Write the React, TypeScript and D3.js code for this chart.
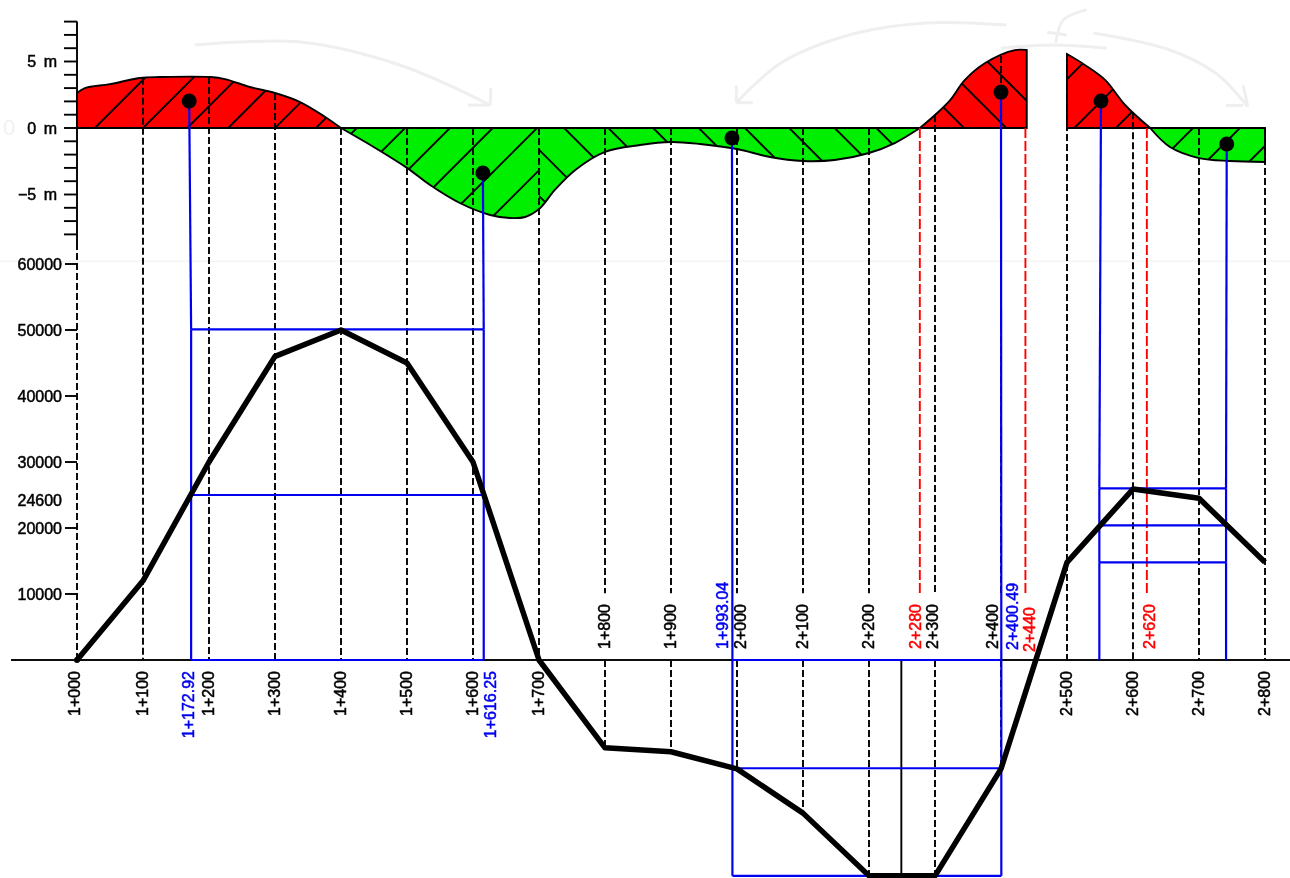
import React from "react";
import * as d3 from "d3";

// Chainage stations (m) and haul-diagram ordinates
const stations = [1000,1100,1200,1300,1400,1500,1600,1700,1800,1900,2000,2100,2200,2300,2400,2500,2600,2700,2800];
const massValues = [0,12000,30000,46000,50000,45000,30000,0,-13300,-13900,-16500,-23200,-32700,-32700,-16500,14800,25900,24500,14800];
const stationLabels = ["1+000","1+100","1+200","1+300","1+400","1+500","1+600","1+700","1+800","1+900","2+000","2+100","2+200","2+300","2+400","2+500","2+600","2+700","2+800"];
const labelsAboveAxis = ["1+800","1+900","2+000","2+100","2+200","2+300","2+400"];

// Cut/fill profile (chainage, metres)
const red1C = [1000,1012,1050,1095,1126,1202,1224,1262,1300,1338,1376,1400];
const red1H = [2.63,3.0,3.3,3.76,3.83,3.83,3.68,3.08,2.63,1.95,0.83,0];
const green1C = [1400,1452,1500,1535,1580,1626,1656,1679,1700];
const green1H = [0,-1.5,-3.0,-4.29,-5.64,-6.54,-6.77,-6.69,-6.1];
const green2C = [1700,1724,1755,1800,1853,1900,1944,2000,2050,2100,2148,2200,2239,2277];
const green2H = [-6.1,-4.66,-3.16,-1.8,-1.28,-1.05,-1.2,-1.58,-2.18,-2.48,-2.41,-1.88,-1.13,0];
const red2C = [2277,2300,2323,2345,2376,2421,2439];
const red2H = [0,0.98,2.1,3.6,4.89,5.86,5.86];
const red3C = [2500,2527,2558,2588,2626];
const red3H = [5.56,4.74,3.6,1.73,0];
const green3C = [2626,2656,2700,2747,2800];
const green3H = [0,-1.43,-2.26,-2.48,-2.56];

// Hatch lines: chainage where each crosses the zero line
const red1Hatch = [1027,1100,1167,1229,1300,1362];
const green1Hatch = [1424,1497,1565,1630,1697,1764];
const green2Hatch = [1597,1667,1738,1805,1873,1942,2012,2079,2148,2211];
const red2Hatch = [2344,2408,2480];
const red3Hatch = [2426,2511,2574];
const green3Hatch = [2691,2762,2827];

// Balance points and their red stations
const redStations = [2277,2437,2621];
const redLabels = ["2+280","2+440","2+620"];

// Balance boxes
const box1 = { from: 1172.92, to: 1616.25, values: [50080, 25000, 0] };
const box2 = { from: 1993.04, to: 2400.49, values: [0, -16400, -32700] };
const box3 = { from: 2549, to: 2741, values: [26000, 20400, 14800] };
const blueLabelsBelow = ["1+172.92","1+616.25"];
const blueLabelsAbove = ["1+993.04","2+400.49"];
const midStation = 2249;

// Centroid dots
const dotC = [1170,1615,1992.4,2400,2551.5,2742];
const dotH = [2.03,-3.38,-0.75,2.7,2.03,-1.2];

// Axis ticks
const massTicks = [60000,50000,40000,30000,20000,10000];
const metreTicks = d3.range(-8, 9);
const metreLabels: [number, string][] = [[5,"5 m"],[0,"0 m"],[-5,"−5 m"]];

// Faint ghost strokes left in the scan (chainage, metres)
const ghostArcs: [number, number][][] = [
  [[1179,6.24],[1338,6.47],[1489,4.74],[1626,1.73]],
  [[1626,1.73],[1627,3.0]],
  [[1626,1.73],[1592,1.73]],
  [[1999,1.9],[2067,4.9],[2178,7.1],[2287,7.9],[2408,7.75]],
  [[1999,1.9],[1999,3.2]],
  [[1999,1.9],[2024,1.9]],
  [[2540,7.15],[2654,5.9],[2726,4.1],[2774,1.6]],
  [[2774,1.6],[2767,3.2]],
  [[2767,1.7],[2741,1.7]],
  [[2530,8.9],[2494,8.1],[2483,6.4]],
  [[2470,7.2],[2500,7.0]],
  [[2400,6.0],[2480,6.25],[2560,6.0]],
];

const W = 1290, H = 878;
const x = d3.scaleLinear().domain([1000, 2800]).range([77, 1265]);
const yM = d3.scaleLinear().domain([-8, 8]).range([234.4, 21.6]);
const yV = d3.scaleLinear().domain([0, 60000]).range([660, 264]);

const FONT = "'Liberation Sans', Arial, sans-serif";
const BLUE = "#0000f0";
const RED = "#ff0000";
const GREEN = "#00ee00";
const LINE = 1.9;

const allC = [...red1C, ...green1C.slice(1), ...green2C.slice(1), ...red2C.slice(1), ...red3C, ...green3C.slice(1)];
const allH = [...red1H, ...green1H.slice(1), ...green2H.slice(1), ...red2H.slice(1), ...red3H, ...green3H.slice(1)];
const heightAt = d3.scaleLinear().domain(allC).range(allH);
const topOf = (c: number) => yM(Math.max(0, heightAt(c)));

const sections = [
  { id: "r1", c: red1C, h: red1H, fill: RED, hatch: red1Hatch, dir: 1 },
  { id: "g1", c: green1C, h: green1H, fill: GREEN, hatch: green1Hatch, dir: 1 },
  { id: "g2", c: green2C, h: green2H, fill: GREEN, hatch: green2Hatch, dir: -1 },
  { id: "r2", c: red2C, h: red2H, fill: RED, hatch: red2Hatch, dir: -1 },
  { id: "r3", c: red3C, h: red3H, fill: RED, hatch: red3Hatch, dir: 1 },
  { id: "g3", c: green3C, h: green3H, fill: GREEN, hatch: green3Hatch, dir: 1 },
];

const areaOf = (c: number[], h: number[]) =>
  d3.area<number>()
    .x((_, i) => x(c[i]))
    .y0(yM(0))
    .y1((_, i) => yM(h[i]))
    .curve(d3.curveCatmullRom)(c) as string;

const ghostLine = d3.line<[number, number]>()
  .x((d) => x(d[0]))
  .y((d) => yM(d[1]))
  .curve(d3.curveCatmullRom);

const massLine = d3.line<number>()
  .x((_, i) => x(stations[i]))
  .y((d) => yV(d))
  .curve(d3.curveLinear);

function VText({ px, py, anchor, fill = "#000", children }: any) {
  return (
    <text
      transform={`translate(${px},${py}) rotate(-90)`}
      textAnchor={anchor}
      dominantBaseline="central"
      fontFamily={FONT}
      fontSize={16}
      fill={fill}
      stroke={fill}
      strokeWidth={0.5}
    >
      {children}
    </text>
  );
}

function Box({ b, leaders }: any) {
  const ys = b.values.map((v: number) => yV(v));
  const top = Math.min(...ys), bottom = Math.max(...ys);
  return (
    <g stroke={BLUE} strokeWidth={2.2} fill="none">
      {ys.map((yy: number, i: number) => (
        <line key={i} x1={x(b.from)} x2={x(b.to)} y1={yy} y2={yy} />
      ))}
      <line x1={x(b.from)} x2={x(b.from)} y1={top} y2={bottom} />
      <line x1={x(b.to)} x2={x(b.to)} y1={top} y2={bottom} />
      {leaders}
    </g>
  );
}

export default function App() {
  const aboveLabelStop = yV(10100);
  return (
    <svg
      width={W}
      height={H}
      viewBox={`0 0 ${W} ${H}`}
      style={{ position: "absolute", left: 0, top: 0, background: "#fff" }}
    >
      <defs>
        <filter id="soft" filterUnits="userSpaceOnUse" x={0} y={0} width={W} height={H}>
          <feGaussianBlur stdDeviation={0.7} />
        </filter>
        {sections.map((s) => (
          <clipPath id={`clip-${s.id}`} key={s.id}>
            <path d={areaOf(s.c, s.h)} />
          </clipPath>
        ))}
      </defs>

      <g filter="url(#soft)">
        {/* ghost scan marks */}
        <line x1={0} x2={W} y1={yV(60400)} y2={yV(60400)} stroke="#f5f5f5" strokeWidth={1.5} />
        <g fill="none" stroke="#efefef" strokeWidth={3}>
          {ghostArcs.map((a, i) => (
            <path key={i} d={ghostLine(a) as string} />
          ))}
        </g>
        <text x={3} y={yM(0) + 7} fontFamily={FONT} fontSize={22} fill="#f0f0f0">0</text>

        {/* fills and hatching */}
        {sections.map((s) => (
          <g key={s.id}>
            <path d={areaOf(s.c, s.h)} fill={s.fill} />
            <g clipPath={`url(#clip-${s.id})`} stroke="#000" strokeWidth={LINE}>
              {s.hatch.map((c) => (
                <line
                  key={c}
                  x1={x(c) - 300}
                  y1={yM(0) + 300 * s.dir}
                  x2={x(c) + 300}
                  y2={yM(0) - 300 * s.dir}
                />
              ))}
            </g>
          </g>
        ))}
        {[
          { c: red1C, h: red1H },
          { c: [...green1C, ...green2C.slice(1)], h: [...green1H, ...green2H.slice(1)] },
          { c: red2C, h: red2H },
          { c: red3C, h: red3H },
          { c: green3C, h: green3H },
        ].map((s, i) => (
          <path key={i} d={areaOf(s.c, s.h)} fill="none" stroke="#000" strokeWidth={LINE} />
        ))}

        {/* metre axis */}
        <line x1={x(1000)} x2={x(1000)} y1={yM(8)} y2={243} stroke="#000" strokeWidth={LINE} />
        {metreTicks.map((t) => (
          <line key={t} x1={64} x2={x(1000)} y1={yM(t)} y2={yM(t)} stroke="#000" strokeWidth={LINE} />
        ))}
        {metreLabels.map(([v, s]) => (
          <text
            key={s}
            x={57}
            y={yM(v)}
            textAnchor="end"
            dominantBaseline="central"
            fontFamily={FONT}
            fontSize={16}
            fill="#000"
            stroke="#000"
            strokeWidth={0.5}
            style={{ wordSpacing: "3px" }}
          >
            {s}
          </text>
        ))}

        {/* station lines */}
        <g stroke="#000" strokeWidth={LINE} strokeDasharray="7 3" fill="none">
          {stations.map((c, i) => {
            const above = labelsAboveAxis.includes(stationLabels[i]);
            const top = c === 1000 ? 243 : topOf(c);
            return above ? (
              <g key={c}>
                <line x1={x(c)} x2={x(c)} y1={top} y2={aboveLabelStop} />
                <line x1={x(c)} x2={x(c)} y1={yV(0)} y2={yV(massValues[i])} />
              </g>
            ) : (
              <line key={c} x1={x(c)} x2={x(c)} y1={top} y2={yV(0)} />
            );
          })}
        </g>
        <g stroke={RED} strokeWidth={LINE} strokeDasharray="10 3" fill="none">
          {redStations.map((c) => (
            <line key={c} x1={x(c)} x2={x(c)} y1={yM(0)} y2={aboveLabelStop} />
          ))}
        </g>
        <line x1={x(midStation)} x2={x(midStation)} y1={yV(0)} y2={yV(-32700)} stroke="#000" strokeWidth={LINE} />

        {/* mass axis */}
        {massTicks.map((t) => (
          <g key={t}>
            <line x1={65} x2={x(1000)} y1={yV(t)} y2={yV(t)} stroke="#000" strokeWidth={LINE} />
            <text
              x={62}
              y={yV(t)}
              textAnchor="end"
              dominantBaseline="central"
              fontFamily={FONT}
              fontSize={16}
              fill="#000"
              stroke="#000"
              strokeWidth={0.5}
            >
              {t}
            </text>
          </g>
        ))}
        <text
          x={62}
          y={yV(24200)}
          textAnchor="end"
          dominantBaseline="central"
          fontFamily={FONT}
          fontSize={16}
          fill="#000"
          stroke="#000"
          strokeWidth={0.5}
        >
          24600
        </text>

        <line x1={11} x2={W} y1={yV(0)} y2={yV(0)} stroke="#111" strokeWidth={2.2} />

        {/* balance boxes and leaders */}
        <Box
          b={box1}
          leaders={
            <>
              <line x1={x(dotC[0])} x2={x(box1.from)} y1={yM(dotH[0])} y2={yV(box1.values[0])} />
              <line x1={x(dotC[1])} x2={x(box1.to)} y1={yM(dotH[1])} y2={yV(box1.values[0])} />
            </>
          }
        />
        <Box
          b={box2}
          leaders={
            <>
              <line x1={x(dotC[2])} x2={x(box2.from)} y1={yM(dotH[2])} y2={yV(0)} />
              <line x1={x(dotC[3])} x2={x(box2.to)} y1={yM(dotH[3])} y2={yV(0)} />
            </>
          }
        />
        <Box
          b={box3}
          leaders={
            <>
              <line x1={x(dotC[4])} x2={x(box3.from)} y1={yM(dotH[4])} y2={yV(box3.values[0])} />
              <line x1={x(dotC[5])} x2={x(box3.to)} y1={yM(dotH[5])} y2={yV(box3.values[0])} />
              <line x1={x(box3.from)} x2={x(box3.from)} y1={yV(box3.values[2])} y2={yV(0)} />
              <line x1={x(box3.to)} x2={x(box3.to)} y1={yV(box3.values[2])} y2={yV(0)} />
            </>
          }
        />

        {/* mass curve */}
        <path d={massLine(massValues) as string} fill="none" stroke="#000" strokeWidth={5.5} strokeLinejoin="round" />
        <circle cx={x(1000)} cy={yV(0)} r={3} fill="#000" />

        {/* dots */}
        {dotC.map((c, i) => (
          <circle key={c} cx={x(c)} cy={yM(dotH[i])} r={7.5} fill="#000" />
        ))}

        {/* station labels */}
        {stations.map((c, i) => {
          const lab = stationLabels[i];
          const above = labelsAboveAxis.includes(lab);
          return above ? (
            <VText key={c} px={x(c) + (c === 2000 ? 3 : c === 2400 ? -9 : c === 2300 ? -3 : -1)} py={649} anchor="start">
              {lab}
            </VText>
          ) : (
            <VText key={c} px={x(c) + (c === 1000 ? -3 : -1)} py={671} anchor="end">
              {lab}
            </VText>
          );
        })}
        <VText px={x(box1.from) - 3} py={671} anchor="end" fill={BLUE}>{blueLabelsBelow[0]}</VText>
        <VText px={x(box1.to) + 7} py={671} anchor="end" fill={BLUE}>{blueLabelsBelow[1]}</VText>
        <VText px={x(box2.from) - 10} py={649} anchor="start" fill={BLUE}>{blueLabelsAbove[0]}</VText>
        <VText px={x(box2.to) + 11} py={650} anchor="start" fill={BLUE}>{blueLabelsAbove[1]}</VText>
        {redStations.map((c, i) => (
          <VText key={c} px={x(c) + (i === 0 ? -4 : i === 1 ? 4 : 3)} py={i === 1 ? 652 : 649} anchor="start" fill={RED}>
            {redLabels[i]}
          </VText>
        ))}
      </g>
    </svg>
  );
}
